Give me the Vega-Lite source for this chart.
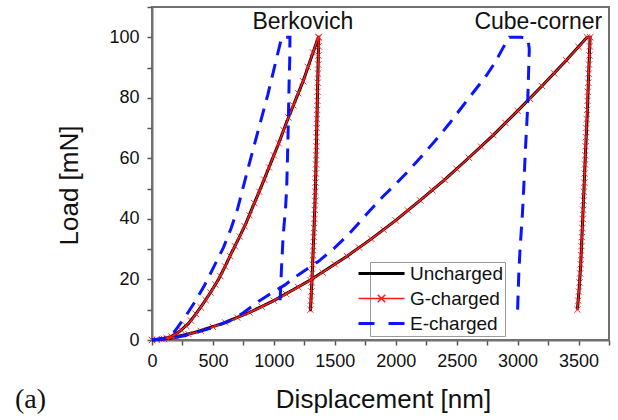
{
  "$schema": "https://vega.github.io/schema/vega-lite/v6.json",
  "width": 457,
  "height": 333,
  "autosize": {"type": "none"},
  "padding": {"left": 152, "top": 7, "right": 9, "bottom": 80},
  "background": "white",
  "config": {
    "font": "Liberation Sans",
    "view": {"stroke": "#707070", "strokeWidth": 2},
    "axis": {
      "grid": false,
      "domainColor": "#707070",
      "domainWidth": 2,
      "tickColor": "#555555",
      "tickWidth": 1.5,
      "tickSize": 5,
      "labelFont": "Liberation Sans",
      "labelFontSize": 18,
      "labelColor": "#111111",
      "titleFont": "Liberation Sans",
      "titleFontSize": 26,
      "titleFontWeight": "normal",
      "titleColor": "#111111"
    },
    "legend": {
      "orient": "none",
      "legendX": 218,
      "legendY": 255,
      "padding": 2,
      "rowPadding": 5,
      "labelFont": "Liberation Sans",
      "labelFontSize": 19,
      "labelColor": "#111111",
      "labelOffset": 19,
      "symbolType": "stroke",
      "symbolSize": 2116,
      "symbolStrokeWidth": 3,
      "fillColor": "white",
      "strokeColor": "#9a9a9a",
      "title": null
    }
  },
  "title": {
    "text": "(a)",
    "orient": "bottom",
    "anchor": "start",
    "frame": "group",
    "font": "Liberation Serif",
    "fontSize": 28,
    "fontWeight": "normal",
    "color": "#111111",
    "dx": -137,
    "offset": -26
  },
  "datasets": {
    "unch": [
      {"c":"B","x":0,"y":0},{"c":"B","x":75,"y":0.3},{"c":"B","x":150,"y":1},{"c":"B","x":225,"y":2.8},{"c":"B","x":300,"y":5.5},{"c":"B","x":360,"y":8.6},{"c":"B","x":420,"y":12},{"c":"B","x":485,"y":16},{"c":"B","x":545,"y":20},{"c":"B","x":600,"y":24.3},{"c":"B","x":655,"y":29},{"c":"B","x":710,"y":33.4},{"c":"B","x":765,"y":38},{"c":"B","x":830,"y":44.3},{"c":"B","x":900,"y":51},{"c":"B","x":970,"y":58},{"c":"B","x":1040,"y":65},{"c":"B","x":1105,"y":72},{"c":"B","x":1170,"y":78.5},{"c":"B","x":1240,"y":85.5},{"c":"B","x":1300,"y":92.5},{"c":"B","x":1365,"y":100},{"c":"B","x":1368,"y":100},{"c":"B","x":1360,"y":85},{"c":"B","x":1352,"y":70},{"c":"B","x":1344,"y":55},{"c":"B","x":1337,"y":45},{"c":"B","x":1328,"y":35},{"c":"B","x":1318,"y":25},{"c":"B","x":1308,"y":16},{"c":"B","x":1300,"y":9.5},
      {"c":"C","x":0,"y":0},{"c":"C","x":150,"y":0.6},{"c":"C","x":350,"y":2.5},{"c":"C","x":575,"y":5.4},{"c":"C","x":800,"y":9.1},{"c":"C","x":1000,"y":13},{"c":"C","x":1300,"y":19.8},{"c":"C","x":1600,"y":27.7},{"c":"C","x":1800,"y":33.4},{"c":"C","x":2000,"y":39.5},{"c":"C","x":2200,"y":46.1},{"c":"C","x":2400,"y":52.9},{"c":"C","x":2600,"y":60.2},{"c":"C","x":2800,"y":67.7},{"c":"C","x":3000,"y":75.7},{"c":"C","x":3200,"y":83.9},{"c":"C","x":3400,"y":92.4},{"c":"C","x":3570,"y":100},{"c":"C","x":3595,"y":100},{"c":"C","x":3585,"y":90},{"c":"C","x":3572,"y":75},{"c":"C","x":3555,"y":60},{"c":"C","x":3545,"y":50},{"c":"C","x":3532,"y":38},{"c":"C","x":3518,"y":25},{"c":"C","x":3505,"y":17},{"c":"C","x":3491,"y":10}
    ],
    "gch": [
      {"c":"B","x":0,"y":0},{"c":"B","x":40,"y":0.1},{"c":"B","x":80,"y":0.3},{"c":"B","x":120,"y":0.7},{"c":"B","x":160,"y":1.2},{"c":"B","x":200,"y":2.1},{"c":"B","x":240,"y":3.3},{"c":"B","x":280,"y":4.7},{"c":"B","x":320,"y":6.4},{"c":"B","x":360,"y":8.6},{"c":"B","x":400,"y":10.8},{"c":"B","x":440,"y":13.2},{"c":"B","x":480,"y":15.7},{"c":"B","x":520,"y":18.3},{"c":"B","x":560,"y":21.1},{"c":"B","x":600,"y":24.3},{"c":"B","x":640,"y":27.7},{"c":"B","x":680,"y":31},{"c":"B","x":720,"y":34.2},{"c":"B","x":760,"y":37.6},{"c":"B","x":800,"y":41.2},{"c":"B","x":840,"y":45.2},{"c":"B","x":880,"y":49},{"c":"B","x":920,"y":53},{"c":"B","x":960,"y":57},{"c":"B","x":1000,"y":61},{"c":"B","x":1040,"y":65},{"c":"B","x":1080,"y":69.3},{"c":"B","x":1120,"y":73.5},{"c":"B","x":1160,"y":77.5},{"c":"B","x":1200,"y":81.5},{"c":"B","x":1240,"y":85.5},{"c":"B","x":1280,"y":90.2},{"c":"B","x":1320,"y":95},{"c":"B","x":1365,"y":100},
      {"c":"B","x":1370,"y":100},{"c":"B","x":1368,"y":97},{"c":"B","x":1366,"y":94},{"c":"B","x":1364,"y":91},{"c":"B","x":1362,"y":88},{"c":"B","x":1360,"y":85},{"c":"B","x":1358,"y":82},{"c":"B","x":1357,"y":79},{"c":"B","x":1355,"y":76},{"c":"B","x":1353,"y":73},{"c":"B","x":1352,"y":70},{"c":"B","x":1350,"y":67},{"c":"B","x":1349,"y":64},{"c":"B","x":1347,"y":61},{"c":"B","x":1346,"y":58},{"c":"B","x":1344,"y":55},{"c":"B","x":1342,"y":52},{"c":"B","x":1340,"y":49},{"c":"B","x":1338,"y":46},{"c":"B","x":1335,"y":43},{"c":"B","x":1333,"y":40},{"c":"B","x":1330,"y":37},{"c":"B","x":1327,"y":34},{"c":"B","x":1324,"y":31},{"c":"B","x":1321,"y":28},{"c":"B","x":1318,"y":25},{"c":"B","x":1315,"y":22},{"c":"B","x":1311,"y":19},{"c":"B","x":1308,"y":16},{"c":"B","x":1304,"y":13},{"c":"B","x":1300,"y":10},
      {"c":"C","x":0,"y":0},{"c":"C","x":100,"y":0.3},{"c":"C","x":200,"y":1},{"c":"C","x":300,"y":1.9},{"c":"C","x":400,"y":3},{"c":"C","x":500,"y":4.3},{"c":"C","x":600,"y":5.8},{"c":"C","x":700,"y":7.4},{"c":"C","x":800,"y":9.1},{"c":"C","x":900,"y":11},{"c":"C","x":1000,"y":13},{"c":"C","x":1100,"y":15.2},{"c":"C","x":1200,"y":17.5},{"c":"C","x":1300,"y":19.8},{"c":"C","x":1400,"y":22.3},{"c":"C","x":1500,"y":25},{"c":"C","x":1600,"y":27.7},{"c":"C","x":1700,"y":30.5},{"c":"C","x":1800,"y":33.4},{"c":"C","x":1900,"y":36.4},{"c":"C","x":2000,"y":39.5},{"c":"C","x":2100,"y":42.8},{"c":"C","x":2200,"y":46.1},{"c":"C","x":2300,"y":49.5},{"c":"C","x":2400,"y":52.9},{"c":"C","x":2500,"y":56.5},{"c":"C","x":2600,"y":60.2},{"c":"C","x":2700,"y":63.9},{"c":"C","x":2800,"y":67.7},{"c":"C","x":2900,"y":71.7},{"c":"C","x":3000,"y":75.7},{"c":"C","x":3100,"y":79.7},{"c":"C","x":3200,"y":83.9},{"c":"C","x":3300,"y":88.1},{"c":"C","x":3400,"y":92.4},{"c":"C","x":3500,"y":96.8},{"c":"C","x":3570,"y":100},
      {"c":"C","x":3596,"y":100},{"c":"C","x":3593,"y":97},{"c":"C","x":3590,"y":94},{"c":"C","x":3586,"y":91},{"c":"C","x":3583,"y":88},{"c":"C","x":3580,"y":85},{"c":"C","x":3576,"y":82},{"c":"C","x":3573,"y":79},{"c":"C","x":3570,"y":76},{"c":"C","x":3567,"y":73},{"c":"C","x":3564,"y":70},{"c":"C","x":3561,"y":67},{"c":"C","x":3558,"y":64},{"c":"C","x":3555,"y":61},{"c":"C","x":3553,"y":58},{"c":"C","x":3550,"y":55},{"c":"C","x":3547,"y":52},{"c":"C","x":3544,"y":49},{"c":"C","x":3541,"y":46},{"c":"C","x":3538,"y":43},{"c":"C","x":3534,"y":40},{"c":"C","x":3531,"y":37},{"c":"C","x":3528,"y":34},{"c":"C","x":3524,"y":31},{"c":"C","x":3521,"y":28},{"c":"C","x":3518,"y":25},{"c":"C","x":3513,"y":22},{"c":"C","x":3508,"y":19},{"c":"C","x":3503,"y":16},{"c":"C","x":3497,"y":13},{"c":"C","x":3491,"y":10}
    ],
    "ech": [
      {"c":"B","x":0,"y":0},{"c":"B","x":100,"y":0.6},{"c":"B","x":180,"y":2.5},{"c":"B","x":273,"y":7.7},{"c":"B","x":350,"y":12.5},{"c":"B","x":430,"y":18},{"c":"B","x":505,"y":24},{"c":"B","x":586,"y":30.5},{"c":"B","x":650,"y":37},{"c":"B","x":700,"y":43},{"c":"B","x":790,"y":57},{"c":"B","x":870,"y":69},{"c":"B","x":950,"y":81},{"c":"B","x":1010,"y":91},{"c":"B","x":1064,"y":100},{"c":"B","x":1132,"y":100},{"c":"B","x":1130,"y":92},{"c":"B","x":1125,"y":85},{"c":"B","x":1120,"y":75},{"c":"B","x":1115,"y":65},{"c":"B","x":1105,"y":50},{"c":"B","x":1095,"y":43},{"c":"B","x":1077,"y":35},{"c":"B","x":1064,"y":25},{"c":"B","x":1050,"y":12},
      {"c":"C","x":0,"y":0},{"c":"C","x":150,"y":0.5},{"c":"C","x":275,"y":1.5},{"c":"C","x":450,"y":3.5},{"c":"C","x":627,"y":6.1},{"c":"C","x":750,"y":9},{"c":"C","x":873,"y":12.7},{"c":"C","x":1000,"y":16},{"c":"C","x":1091,"y":18.2},{"c":"C","x":1200,"y":21.5},{"c":"C","x":1364,"y":25.9},{"c":"C","x":1500,"y":30.5},{"c":"C","x":1623,"y":35.3},{"c":"C","x":1760,"y":41.5},{"c":"C","x":1895,"y":47.4},{"c":"C","x":2000,"y":51.5},{"c":"C","x":2114,"y":56.3},{"c":"C","x":2230,"y":61.5},{"c":"C","x":2332,"y":66.2},{"c":"C","x":2440,"y":71.5},{"c":"C","x":2550,"y":77.3},{"c":"C","x":2650,"y":82.5},{"c":"C","x":2741,"y":87.2},{"c":"C","x":2820,"y":92},{"c":"C","x":2880,"y":96.5},{"c":"C","x":2932,"y":100},{"c":"C","x":3030,"y":100},{"c":"C","x":3085,"y":99.5},{"c":"C","x":3096,"y":96},{"c":"C","x":3090,"y":88},{"c":"C","x":3080,"y":75},{"c":"C","x":3063,"y":62},{"c":"C","x":3050,"y":50},{"c":"C","x":3040,"y":42},{"c":"C","x":3020,"y":30},{"c":"C","x":3010,"y":22},{"c":"C","x":3000,"y":10}
    ],
    "notes": [
      {"t":"Berkovich","x":1238,"y":102.7},
      {"t":"Cube-corner","x":3170,"y":102.7}
    ]
  },
  "encoding": {
    "x": {
      "field": "x", "type": "quantitative",
      "scale": {"domain": [0, 3750], "nice": false},
      "axis": {
        "title": "Displacement [nm]",
        "values": [0,250,500,750,1000,1250,1500,1750,2000,2250,2500,2750,3000,3250,3500,3750],
        "labelExpr": "datum.value % 500 === 0 && datum.value <= 3500 ? format(datum.value, 'd') : ''",
        "labelPadding": 7,
        "labelFlush": false,
        "titleY": 67,
        "titleX": 231,
        "titleBaseline": "alphabetic"
      }
    },
    "y": {
      "field": "y", "type": "quantitative",
      "scale": {"domain": [0, 110], "nice": false},
      "axis": {
        "title": "Load [mN]",
        "values": [0,10,20,30,40,50,60,70,80,90,100,110],
        "labelExpr": "datum.value % 20 === 0 && datum.value <= 100 ? format(datum.value, 'd') : ''",
        "labelPadding": 8,
        "labelFlush": false,
        "titleX": -75,
        "titleY": 178,
        "titleAngle": -90,
        "titleBaseline": "alphabetic"
      }
    }
  },
  "layer": [
    {
      "data": {"name": "unch"},
      "mark": {"type": "line", "strokeWidth": 3},
      "encoding": {
        "detail": {"field": "c"},
        "order": {"value": null},
        "color": {
          "datum": "Uncharged",
          "scale": {"domain": ["Uncharged", "G-charged", "E-charged"], "range": ["#000000", "#ff1a1a", "#0a14ff"]},
          "legend": {
            "symbolType": "stroke",
            "symbolSize": 2116,
            "encode": {
              "symbols": {
                "update": {
                  "shape": {"signal": "datum.value === 'G-charged' ? 'M-1,0L1,0M-0.16,-0.16L0.16,0.16M-0.16,0.16L0.16,-0.16' : 'stroke'"},
                  "strokeDash": {"signal": "datum.value === 'E-charged' ? [16,14] : [1,0]"},
                  "strokeWidth": {"signal": "datum.value === 'G-charged' ? 1.5 : 3"},
                  "size": {"value": 2116},
                  "fill": {"value": "transparent"}
                }
              }
            }
          }
        }
      }
    },
    {
      "data": {"name": "gch"},
      "mark": {"type": "line", "strokeWidth": 1.5},
      "encoding": {
        "detail": {"field": "c"},
        "order": {"value": null},
        "color": {"datum": "G-charged"}
      }
    },
    {
      "data": {"name": "gch"},
      "mark": {"type": "point", "shape": "M-1,-1L1,1M-1,1L1,-1", "size": 40, "strokeWidth": 1, "filled": false, "opacity": 0.9},
      "encoding": {
        "color": {"datum": "G-charged"}
      }
    },
    {
      "data": {"name": "ech"},
      "mark": {"type": "line", "strokeWidth": 3, "strokeDash": [14, 9]},
      "encoding": {
        "detail": {"field": "c"},
        "order": {"value": null},
        "color": {"datum": "E-charged"}
      }
    },
    {
      "data": {"name": "notes"},
      "mark": {"type": "text", "font": "Liberation Sans", "fontSize": 23, "color": "#111111", "baseline": "alphabetic", "align": "center"},
      "encoding": {
        "text": {"field": "t"}
      }
    }
  ]
}
